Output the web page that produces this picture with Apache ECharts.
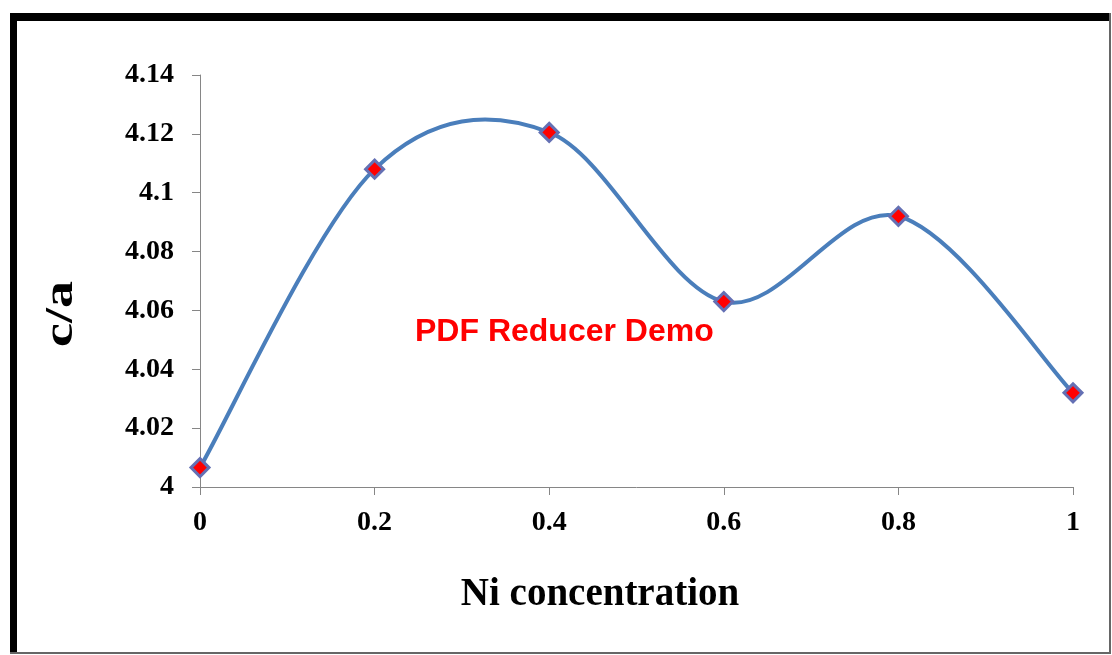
<!DOCTYPE html>
<html>
<head>
<meta charset="utf-8">
<script src="https://cdn.jsdelivr.net/npm/echarts@6/dist/echarts.min.js"></script>
<style>
html,body{margin:0;padding:0;background:#fff;}
#chart{width:1112px;height:655px;}
</style>
</head>
<body>
<div id="chart"></div>
<script>
const niConcentration = [0, 0.2, 0.4, 0.6, 0.8, 1];
const caRatio = [4.0066, 4.108, 4.1205, 4.063, 4.092, 4.032];
const xTickLabels = ['0', '0.2', '0.4', '0.6', '0.8', '1'];
const yTickLabels = ['4', '4.02', '4.04', '4.06', '4.08', '4.1', '4.12', '4.14'];
const xTitle = 'Ni concentration';
const yTitle = 'c/a';
const watermark = 'PDF Reducer Demo';

const chart = echarts.init(document.getElementById('chart'), null, {renderer: 'canvas'});
const serif = '"Liberation Serif", "Times New Roman", serif';
const points = niConcentration.map((x, i) => [x, caRatio[i]]);

// Excel-like (Catmull-Rom, 1/6 tension) smoothed curve through the data, via the chart's own coordinate system
function renderCurve(params, api) {
  if (params.dataIndex !== 0) return null;
  const p = points.map(d => api.coord(d));
  const n = p.length;
  const children = [];
  for (let i = 0; i < n - 1; i++) {
    const p0 = p[Math.max(i - 1, 0)], p1 = p[i], p2 = p[i + 1], p3 = p[Math.min(i + 2, n - 1)];
    children.push({
      type: 'bezierCurve',
      shape: {
        x1: p1[0], y1: p1[1],
        cpx1: p1[0] + (p2[0] - p0[0]) / 6, cpy1: p1[1] + (p2[1] - p0[1]) / 6,
        cpx2: p2[0] - (p3[0] - p1[0]) / 6, cpy2: p2[1] - (p3[1] - p1[1]) / 6,
        x2: p2[0], y2: p2[1]
      },
      style: {stroke: '#4a7ebb', lineWidth: 4, fill: null, lineCap: 'round'}
    });
  }
  return {type: 'group', children};
}

chart.setOption({
  backgroundColor: '#ffffff',
  animation: false,
  grid: {left: 200, right: 39, top: 75, bottom: 168},
  graphic: [
    {type: 'rect', shape: {x: 10, y: 13, width: 1101, height: 8}, style: {fill: '#000'}},
    {type: 'rect', shape: {x: 10, y: 13, width: 7, height: 641}, style: {fill: '#000'}},
    {type: 'rect', shape: {x: 1109, y: 13, width: 2, height: 641}, style: {fill: '#666'}},
    {type: 'rect', shape: {x: 10, y: 652, width: 1101, height: 2}, style: {fill: '#666'}},
    {type: 'text', x: 415, y: 316, style: {text: watermark, fill: '#ff0000', font: 'bold 32px "Liberation Sans", Arial, sans-serif'}},
    {type: 'text', x: 600, y: 595, style: {text: xTitle, fill: '#000', font: 'bold 39px ' + serif, align: 'center', verticalAlign: 'middle'}},
    {type: 'text', x: 62, y: 314, rotation: Math.PI / 2, scaleX: 1.35,
     style: {text: yTitle, fill: '#000', font: 'bold 40px ' + serif, align: 'center', verticalAlign: 'middle'}}
  ],
  xAxis: {
    type: 'value', min: 0, max: 1, interval: 0.2,
    axisLine: {show: true, lineStyle: {color: '#868686', width: 1}},
    axisTick: {show: true, inside: false, length: 8, lineStyle: {color: '#868686'}},
    splitLine: {show: false},
    axisLabel: {
      margin: 22, fontFamily: serif, fontWeight: 'bold', fontSize: 28, color: '#000',
      formatter: v => xTickLabels[Math.round(v / 0.2)]
    }
  },
  yAxis: {
    type: 'value', min: 4, max: 4.14, interval: 0.02,
    axisLine: {show: true, lineStyle: {color: '#868686', width: 1}},
    axisTick: {show: true, inside: false, length: 8, lineStyle: {color: '#868686'}},
    splitLine: {show: false},
    axisLabel: {
      margin: 26, fontFamily: serif, fontWeight: 'bold', fontSize: 28, color: '#000',
      formatter: v => yTickLabels[Math.round((v - 4) / 0.02)]
    }
  },
  series: [
    {
      type: 'custom',
      renderItem: renderCurve,
      data: points,
      encode: {x: 0, y: 1},
      z: 2,
      clip: false
    },
    {
      type: 'line',
      data: points,
      symbol: 'diamond',
      symbolSize: 18,
      lineStyle: {width: 0, opacity: 0},
      itemStyle: {color: '#ff0000', borderColor: '#6470b4', borderWidth: 3},
      z: 3
    }
  ]
});
</script>
</body>
</html>
